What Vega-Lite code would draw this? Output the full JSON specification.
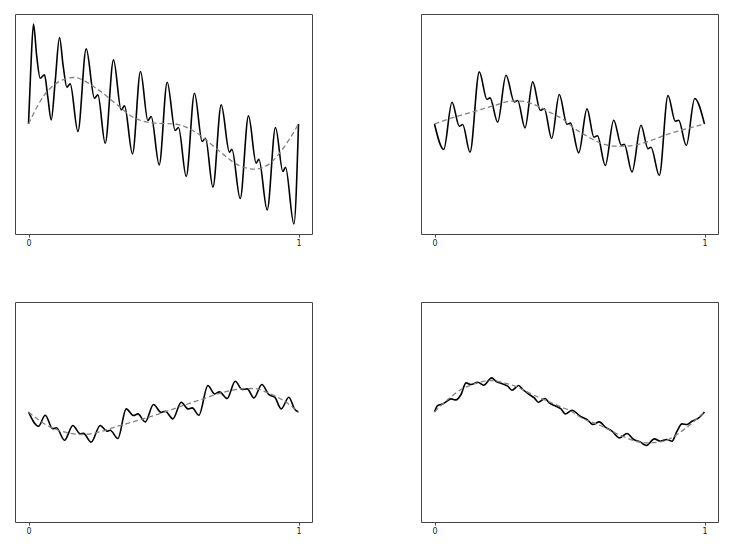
{
  "$schema": "https://vega.github.io/schema/vega-lite/v6.json",
  "padding": {"left": 14, "top": 13, "right": 0, "bottom": 0},
  "background": "white",
  "config": {
    "view": {"stroke": "#444", "strokeWidth": 1},
    "font": "DejaVu Sans",
    "axisX": {"title": null, "grid": false, "domain": false, "tickSize": 3, "tickColor": "#444", "labelFontSize": 8, "labelColor": "#222", "labelPadding": 2},
    "line": {"interpolate": "monotone"}
  },
  "datasets": {
    "pts": [
      {"p": "a", "s": "f", "x": 0, "y": 0},
      {"p": "a", "s": "f", "x": 0.0081, "y": 0.528},
      {"p": "a", "s": "f", "x": 0.0185, "y": 1.0},
      {"p": "a", "s": "f", "x": 0.0304, "y": 0.678},
      {"p": "a", "s": "f", "x": 0.0433, "y": 0.458},
      {"p": "a", "s": "f", "x": 0.0593, "y": 0.491},
      {"p": "a", "s": "f", "x": 0.0711, "y": 0.278},
      {"p": "a", "s": "f", "x": 0.0841, "y": 0.041},
      {"p": "a", "s": "f", "x": 0.0989, "y": 0.428},
      {"p": "a", "s": "f", "x": 0.1148, "y": 0.865},
      {"p": "a", "s": "f", "x": 0.1285, "y": 0.578},
      {"p": "a", "s": "f", "x": 0.1422, "y": 0.368},
      {"p": "a", "s": "f", "x": 0.1544, "y": 0.401},
      {"p": "a", "s": "f", "x": 0.183, "y": -0.075},
      {"p": "a", "s": "f", "x": 0.2137, "y": 0.751},
      {"p": "a", "s": "f", "x": 0.2444, "y": 0.258},
      {"p": "a", "s": "f", "x": 0.257, "y": 0.291},
      {"p": "a", "s": "f", "x": 0.2841, "y": -0.192},
      {"p": "a", "s": "f", "x": 0.3148, "y": 0.641},
      {"p": "a", "s": "f", "x": 0.3433, "y": 0.141},
      {"p": "a", "s": "f", "x": 0.3556, "y": 0.181},
      {"p": "a", "s": "f", "x": 0.3852, "y": -0.299},
      {"p": "a", "s": "f", "x": 0.4148, "y": 0.525},
      {"p": "a", "s": "f", "x": 0.4422, "y": 0.035},
      {"p": "a", "s": "f", "x": 0.4544, "y": 0.075},
      {"p": "a", "s": "f", "x": 0.4841, "y": -0.409},
      {"p": "a", "s": "f", "x": 0.5137, "y": 0.418},
      {"p": "a", "s": "f", "x": 0.5433, "y": -0.065},
      {"p": "a", "s": "f", "x": 0.5556, "y": -0.035},
      {"p": "a", "s": "f", "x": 0.5841, "y": -0.525},
      {"p": "a", "s": "f", "x": 0.6148, "y": 0.308},
      {"p": "a", "s": "f", "x": 0.6433, "y": -0.175},
      {"p": "a", "s": "f", "x": 0.6556, "y": -0.142},
      {"p": "a", "s": "f", "x": 0.683, "y": -0.632},
      {"p": "a", "s": "f", "x": 0.7137, "y": 0.191},
      {"p": "a", "s": "f", "x": 0.7444, "y": -0.282},
      {"p": "a", "s": "f", "x": 0.7533, "y": -0.252},
      {"p": "a", "s": "f", "x": 0.7841, "y": -0.745},
      {"p": "a", "s": "f", "x": 0.8148, "y": 0.081},
      {"p": "a", "s": "f", "x": 0.8433, "y": -0.392},
      {"p": "a", "s": "f", "x": 0.8533, "y": -0.352},
      {"p": "a", "s": "f", "x": 0.8841, "y": -0.859},
      {"p": "a", "s": "f", "x": 0.9148, "y": -0.035},
      {"p": "a", "s": "f", "x": 0.9422, "y": -0.475},
      {"p": "a", "s": "f", "x": 0.9519, "y": -0.432},
      {"p": "a", "s": "f", "x": 0.983, "y": -0.999},
      {"p": "a", "s": "f", "x": 1.0, "y": 0},

      {"p": "a", "s": "a", "x": 0, "y": 0},
      {"p": "a", "s": "a", "x": 0.0741, "y": 0.341},
      {"p": "a", "s": "a", "x": 0.1667, "y": 0.465},
      {"p": "a", "s": "a", "x": 0.2593, "y": 0.341},
      {"p": "a", "s": "a", "x": 0.3211, "y": 0.208},
      {"p": "a", "s": "a", "x": 0.383, "y": 0.075},
      {"p": "a", "s": "a", "x": 0.4693, "y": 0.008},
      {"p": "a", "s": "a", "x": 0.5407, "y": 0.001},
      {"p": "a", "s": "a", "x": 0.6148, "y": -0.075},
      {"p": "a", "s": "a", "x": 0.7015, "y": -0.259},
      {"p": "a", "s": "a", "x": 0.7756, "y": -0.409},
      {"p": "a", "s": "a", "x": 0.837, "y": -0.452},
      {"p": "a", "s": "a", "x": 0.8867, "y": -0.409},
      {"p": "a", "s": "a", "x": 0.9481, "y": -0.225},
      {"p": "a", "s": "a", "x": 1.0, "y": 0},

      {"p": "b", "s": "f", "x": 0, "y": 0},
      {"p": "b", "s": "f", "x": 0.0341, "y": -0.255},
      {"p": "b", "s": "f", "x": 0.0648, "y": 0.218},
      {"p": "b", "s": "f", "x": 0.0919, "y": -0.022},
      {"p": "b", "s": "f", "x": 0.1044, "y": -0.005},
      {"p": "b", "s": "f", "x": 0.1315, "y": -0.282},
      {"p": "b", "s": "f", "x": 0.1659, "y": 0.521},
      {"p": "b", "s": "f", "x": 0.1944, "y": 0.245},
      {"p": "b", "s": "f", "x": 0.2056, "y": 0.261},
      {"p": "b", "s": "f", "x": 0.2341, "y": 0.018},
      {"p": "b", "s": "f", "x": 0.2648, "y": 0.488},
      {"p": "b", "s": "f", "x": 0.2956, "y": 0.221},
      {"p": "b", "s": "f", "x": 0.3081, "y": 0.235},
      {"p": "b", "s": "f", "x": 0.3352, "y": -0.039},
      {"p": "b", "s": "f", "x": 0.3637, "y": 0.421},
      {"p": "b", "s": "f", "x": 0.3919, "y": 0.137},
      {"p": "b", "s": "f", "x": 0.4067, "y": 0.153},
      {"p": "b", "s": "f", "x": 0.4341, "y": -0.145},
      {"p": "b", "s": "f", "x": 0.4622, "y": 0.295},
      {"p": "b", "s": "f", "x": 0.4907, "y": -0.002},
      {"p": "b", "s": "f", "x": 0.5037, "y": 0.01},
      {"p": "b", "s": "f", "x": 0.5341, "y": -0.289},
      {"p": "b", "s": "f", "x": 0.5648, "y": 0.151},
      {"p": "b", "s": "f", "x": 0.5907, "y": -0.132},
      {"p": "b", "s": "f", "x": 0.6037, "y": -0.117},
      {"p": "b", "s": "f", "x": 0.6326, "y": -0.415},
      {"p": "b", "s": "f", "x": 0.6637, "y": 0.038},
      {"p": "b", "s": "f", "x": 0.6919, "y": -0.212},
      {"p": "b", "s": "f", "x": 0.703, "y": -0.202},
      {"p": "b", "s": "f", "x": 0.7315, "y": -0.479},
      {"p": "b", "s": "f", "x": 0.7648, "y": -0.012},
      {"p": "b", "s": "f", "x": 0.7907, "y": -0.247},
      {"p": "b", "s": "f", "x": 0.8019, "y": -0.232},
      {"p": "b", "s": "f", "x": 0.8326, "y": -0.515},
      {"p": "b", "s": "f", "x": 0.8648, "y": 0.285},
      {"p": "b", "s": "f", "x": 0.8919, "y": 0.028},
      {"p": "b", "s": "f", "x": 0.9044, "y": 0.038},
      {"p": "b", "s": "f", "x": 0.9326, "y": -0.215},
      {"p": "b", "s": "f", "x": 0.9637, "y": 0.255},
      {"p": "b", "s": "f", "x": 1.0, "y": 0},

      {"p": "b", "s": "a", "x": 0, "y": 0},
      {"p": "b", "s": "a", "x": 0.0733, "y": 0.068},
      {"p": "b", "s": "a", "x": 0.16, "y": 0.135},
      {"p": "b", "s": "a", "x": 0.2341, "y": 0.195},
      {"p": "b", "s": "a", "x": 0.2833, "y": 0.228},
      {"p": "b", "s": "a", "x": 0.3204, "y": 0.228},
      {"p": "b", "s": "a", "x": 0.3696, "y": 0.195},
      {"p": "b", "s": "a", "x": 0.4193, "y": 0.128},
      {"p": "b", "s": "a", "x": 0.4807, "y": 0.038},
      {"p": "b", "s": "a", "x": 0.5156, "y": -0.039},
      {"p": "b", "s": "a", "x": 0.5648, "y": -0.122},
      {"p": "b", "s": "a", "x": 0.6141, "y": -0.189},
      {"p": "b", "s": "a", "x": 0.6637, "y": -0.222},
      {"p": "b", "s": "a", "x": 0.713, "y": -0.222},
      {"p": "b", "s": "a", "x": 0.7622, "y": -0.199},
      {"p": "b", "s": "a", "x": 0.8119, "y": -0.155},
      {"p": "b", "s": "a", "x": 0.8611, "y": -0.105},
      {"p": "b", "s": "a", "x": 0.923, "y": -0.055},
      {"p": "b", "s": "a", "x": 1.0, "y": 0},

      {"p": "c", "s": "f", "x": 0, "y": 0},
      {"p": "c", "s": "f", "x": 0.037, "y": -0.142},
      {"p": "c", "s": "f", "x": 0.0619, "y": -0.032},
      {"p": "c", "s": "f", "x": 0.0896, "y": -0.167},
      {"p": "c", "s": "f", "x": 0.1037, "y": -0.157},
      {"p": "c", "s": "f", "x": 0.1333, "y": -0.282},
      {"p": "c", "s": "f", "x": 0.1644, "y": -0.135},
      {"p": "c", "s": "f", "x": 0.1915, "y": -0.219},
      {"p": "c", "s": "f", "x": 0.2037, "y": -0.214},
      {"p": "c", "s": "f", "x": 0.2322, "y": -0.302},
      {"p": "c", "s": "f", "x": 0.2656, "y": -0.135},
      {"p": "c", "s": "f", "x": 0.2904, "y": -0.192},
      {"p": "c", "s": "f", "x": 0.3026, "y": -0.182},
      {"p": "c", "s": "f", "x": 0.3311, "y": -0.265},
      {"p": "c", "s": "f", "x": 0.3619, "y": 0.031},
      {"p": "c", "s": "f", "x": 0.3889, "y": -0.035},
      {"p": "c", "s": "f", "x": 0.4052, "y": -0.019},
      {"p": "c", "s": "f", "x": 0.4322, "y": -0.099},
      {"p": "c", "s": "f", "x": 0.463, "y": 0.075},
      {"p": "c", "s": "f", "x": 0.4915, "y": -0.004},
      {"p": "c", "s": "f", "x": 0.5063, "y": 0.008},
      {"p": "c", "s": "f", "x": 0.5348, "y": -0.069},
      {"p": "c", "s": "f", "x": 0.5656, "y": 0.098},
      {"p": "c", "s": "f", "x": 0.5904, "y": 0.031},
      {"p": "c", "s": "f", "x": 0.6063, "y": 0.041},
      {"p": "c", "s": "f", "x": 0.6311, "y": -0.032},
      {"p": "c", "s": "f", "x": 0.6644, "y": 0.265},
      {"p": "c", "s": "f", "x": 0.6889, "y": 0.181},
      {"p": "c", "s": "f", "x": 0.7074, "y": 0.201},
      {"p": "c", "s": "f", "x": 0.7359, "y": 0.135},
      {"p": "c", "s": "f", "x": 0.7656, "y": 0.308},
      {"p": "c", "s": "f", "x": 0.7915, "y": 0.225},
      {"p": "c", "s": "f", "x": 0.81, "y": 0.231},
      {"p": "c", "s": "f", "x": 0.8348, "y": 0.141},
      {"p": "c", "s": "f", "x": 0.8644, "y": 0.275},
      {"p": "c", "s": "f", "x": 0.8904, "y": 0.173},
      {"p": "c", "s": "f", "x": 0.9119, "y": 0.148},
      {"p": "c", "s": "f", "x": 0.9359, "y": 0.031},
      {"p": "c", "s": "f", "x": 0.9644, "y": 0.148},
      {"p": "c", "s": "f", "x": 0.9852, "y": 0.031},
      {"p": "c", "s": "f", "x": 1.0, "y": 0},

      {"p": "c", "s": "a", "x": 0, "y": 0},
      {"p": "c", "s": "a", "x": 0.0741, "y": -0.142},
      {"p": "c", "s": "a", "x": 0.1481, "y": -0.209},
      {"p": "c", "s": "a", "x": 0.1978, "y": -0.225},
      {"p": "c", "s": "a", "x": 0.2593, "y": -0.202},
      {"p": "c", "s": "a", "x": 0.3211, "y": -0.149},
      {"p": "c", "s": "a", "x": 0.3952, "y": -0.092},
      {"p": "c", "s": "a", "x": 0.4941, "y": -0.009},
      {"p": "c", "s": "a", "x": 0.5656, "y": 0.058},
      {"p": "c", "s": "a", "x": 0.6396, "y": 0.125},
      {"p": "c", "s": "a", "x": 0.7137, "y": 0.191},
      {"p": "c", "s": "a", "x": 0.7878, "y": 0.231},
      {"p": "c", "s": "a", "x": 0.837, "y": 0.235},
      {"p": "c", "s": "a", "x": 0.8867, "y": 0.191},
      {"p": "c", "s": "a", "x": 0.9481, "y": 0.108},
      {"p": "c", "s": "a", "x": 1.0, "y": 0},

      {"p": "d", "s": "f", "x": 0, "y": 0},
      {"p": "d", "s": "f", "x": 0.0119, "y": 0.065},
      {"p": "d", "s": "f", "x": 0.0315, "y": 0.081},
      {"p": "d", "s": "f", "x": 0.0426, "y": 0.101},
      {"p": "d", "s": "f", "x": 0.0611, "y": 0.131},
      {"p": "d", "s": "f", "x": 0.0796, "y": 0.121},
      {"p": "d", "s": "f", "x": 0.0981, "y": 0.175},
      {"p": "d", "s": "f", "x": 0.1167, "y": 0.291},
      {"p": "d", "s": "f", "x": 0.1352, "y": 0.275},
      {"p": "d", "s": "f", "x": 0.16, "y": 0.298},
      {"p": "d", "s": "f", "x": 0.1822, "y": 0.268},
      {"p": "d", "s": "f", "x": 0.2119, "y": 0.341},
      {"p": "d", "s": "f", "x": 0.2278, "y": 0.308},
      {"p": "d", "s": "f", "x": 0.2526, "y": 0.281},
      {"p": "d", "s": "f", "x": 0.2711, "y": 0.258},
      {"p": "d", "s": "f", "x": 0.287, "y": 0.218},
      {"p": "d", "s": "f", "x": 0.3119, "y": 0.265},
      {"p": "d", "s": "f", "x": 0.3267, "y": 0.225},
      {"p": "d", "s": "f", "x": 0.3511, "y": 0.175},
      {"p": "d", "s": "f", "x": 0.3696, "y": 0.141},
      {"p": "d", "s": "f", "x": 0.3844, "y": 0.098},
      {"p": "d", "s": "f", "x": 0.4093, "y": 0.135},
      {"p": "d", "s": "f", "x": 0.4252, "y": 0.091},
      {"p": "d", "s": "f", "x": 0.45, "y": 0.058},
      {"p": "d", "s": "f", "x": 0.4685, "y": 0.031},
      {"p": "d", "s": "f", "x": 0.4844, "y": -0.019},
      {"p": "d", "s": "f", "x": 0.5093, "y": 0.018},
      {"p": "d", "s": "f", "x": 0.54, "y": -0.042},
      {"p": "d", "s": "f", "x": 0.5648, "y": -0.075},
      {"p": "d", "s": "f", "x": 0.587, "y": -0.125},
      {"p": "d", "s": "f", "x": 0.6104, "y": -0.099},
      {"p": "d", "s": "f", "x": 0.6326, "y": -0.152},
      {"p": "d", "s": "f", "x": 0.6574, "y": -0.192},
      {"p": "d", "s": "f", "x": 0.6859, "y": -0.259},
      {"p": "d", "s": "f", "x": 0.713, "y": -0.215},
      {"p": "d", "s": "f", "x": 0.7378, "y": -0.275},
      {"p": "d", "s": "f", "x": 0.7622, "y": -0.299},
      {"p": "d", "s": "f", "x": 0.7844, "y": -0.335},
      {"p": "d", "s": "f", "x": 0.8141, "y": -0.269},
      {"p": "d", "s": "f", "x": 0.8363, "y": -0.292},
      {"p": "d", "s": "f", "x": 0.8611, "y": -0.275},
      {"p": "d", "s": "f", "x": 0.8796, "y": -0.292},
      {"p": "d", "s": "f", "x": 0.8981, "y": -0.192},
      {"p": "d", "s": "f", "x": 0.9167, "y": -0.119},
      {"p": "d", "s": "f", "x": 0.9352, "y": -0.125},
      {"p": "d", "s": "f", "x": 0.9537, "y": -0.092},
      {"p": "d", "s": "f", "x": 0.9785, "y": -0.059},
      {"p": "d", "s": "f", "x": 1.0, "y": 0},

      {"p": "d", "s": "a", "x": 0, "y": 0},
      {"p": "d", "s": "a", "x": 0.0489, "y": 0.125},
      {"p": "d", "s": "a", "x": 0.0981, "y": 0.225},
      {"p": "d", "s": "a", "x": 0.1474, "y": 0.281},
      {"p": "d", "s": "a", "x": 0.2093, "y": 0.315},
      {"p": "d", "s": "a", "x": 0.2585, "y": 0.291},
      {"p": "d", "s": "a", "x": 0.3081, "y": 0.248},
      {"p": "d", "s": "a", "x": 0.3574, "y": 0.181},
      {"p": "d", "s": "a", "x": 0.4193, "y": 0.108},
      {"p": "d", "s": "a", "x": 0.4685, "y": 0.051},
      {"p": "d", "s": "a", "x": 0.5056, "y": 0.008},
      {"p": "d", "s": "a", "x": 0.54, "y": -0.052},
      {"p": "d", "s": "a", "x": 0.6141, "y": -0.135},
      {"p": "d", "s": "a", "x": 0.6881, "y": -0.232},
      {"p": "d", "s": "a", "x": 0.7378, "y": -0.285},
      {"p": "d", "s": "a", "x": 0.787, "y": -0.309},
      {"p": "d", "s": "a", "x": 0.8489, "y": -0.292},
      {"p": "d", "s": "a", "x": 0.8981, "y": -0.225},
      {"p": "d", "s": "a", "x": 0.9474, "y": -0.125},
      {"p": "d", "s": "a", "x": 1.0, "y": 0}
    ]
  },
  "data": {"name": "pts"},
  "columns": 2,
  "spacing": {"row": 68, "column": 109},
  "bounds": "flush",
  "concat": [
    {
      "width": 297, "height": 220,
      "transform": [{"filter": "datum.p === 'a'"}],
      "encoding": {
        "x": {"field": "x", "type": "quantitative", "scale": {"domain": [-0.05, 1.05], "nice": false, "zero": false}, "axis": {"values": [0, 1], "format": "d"}},
        "y": {"field": "y", "type": "quantitative", "scale": {"domain": [-1.1, 1.1], "nice": false, "zero": false}, "axis": null},
        "order": {"field": "x", "type": "quantitative"}
      },
      "layer": [
        {"transform": [{"filter": "datum.s === 'f'"}], "mark": {"type": "line", "color": "#000000", "strokeWidth": 1.6}},
        {"transform": [{"filter": "datum.s === 'a'"}], "mark": {"type": "line", "color": "#808080", "strokeWidth": 1.3, "strokeDash": [5, 3]}}
      ]
    },
    {
      "width": 297, "height": 220,
      "transform": [{"filter": "datum.p === 'b'"}],
      "encoding": {
        "x": {"field": "x", "type": "quantitative", "scale": {"domain": [-0.05, 1.05], "nice": false, "zero": false}, "axis": {"values": [0, 1], "format": "d"}},
        "y": {"field": "y", "type": "quantitative", "scale": {"domain": [-1.1, 1.1], "nice": false, "zero": false}, "axis": null},
        "order": {"field": "x", "type": "quantitative"}
      },
      "layer": [
        {"transform": [{"filter": "datum.s === 'f'"}], "mark": {"type": "line", "color": "#000000", "strokeWidth": 1.6}},
        {"transform": [{"filter": "datum.s === 'a'"}], "mark": {"type": "line", "color": "#808080", "strokeWidth": 1.3, "strokeDash": [5, 3]}}
      ]
    },
    {
      "width": 297, "height": 220,
      "transform": [{"filter": "datum.p === 'c'"}],
      "encoding": {
        "x": {"field": "x", "type": "quantitative", "scale": {"domain": [-0.05, 1.05], "nice": false, "zero": false}, "axis": {"values": [0, 1], "format": "d"}},
        "y": {"field": "y", "type": "quantitative", "scale": {"domain": [-1.1, 1.1], "nice": false, "zero": false}, "axis": null},
        "order": {"field": "x", "type": "quantitative"}
      },
      "layer": [
        {"transform": [{"filter": "datum.s === 'f'"}], "mark": {"type": "line", "color": "#000000", "strokeWidth": 1.6}},
        {"transform": [{"filter": "datum.s === 'a'"}], "mark": {"type": "line", "color": "#808080", "strokeWidth": 1.3, "strokeDash": [5, 3]}}
      ]
    },
    {
      "width": 297, "height": 220,
      "transform": [{"filter": "datum.p === 'd'"}],
      "encoding": {
        "x": {"field": "x", "type": "quantitative", "scale": {"domain": [-0.05, 1.05], "nice": false, "zero": false}, "axis": {"values": [0, 1], "format": "d"}},
        "y": {"field": "y", "type": "quantitative", "scale": {"domain": [-1.1, 1.1], "nice": false, "zero": false}, "axis": null},
        "order": {"field": "x", "type": "quantitative"}
      },
      "layer": [
        {"transform": [{"filter": "datum.s === 'f'"}], "mark": {"type": "line", "color": "#000000", "strokeWidth": 1.6}},
        {"transform": [{"filter": "datum.s === 'a'"}], "mark": {"type": "line", "color": "#808080", "strokeWidth": 1.3, "strokeDash": [5, 3]}}
      ]
    }
  ]
}
